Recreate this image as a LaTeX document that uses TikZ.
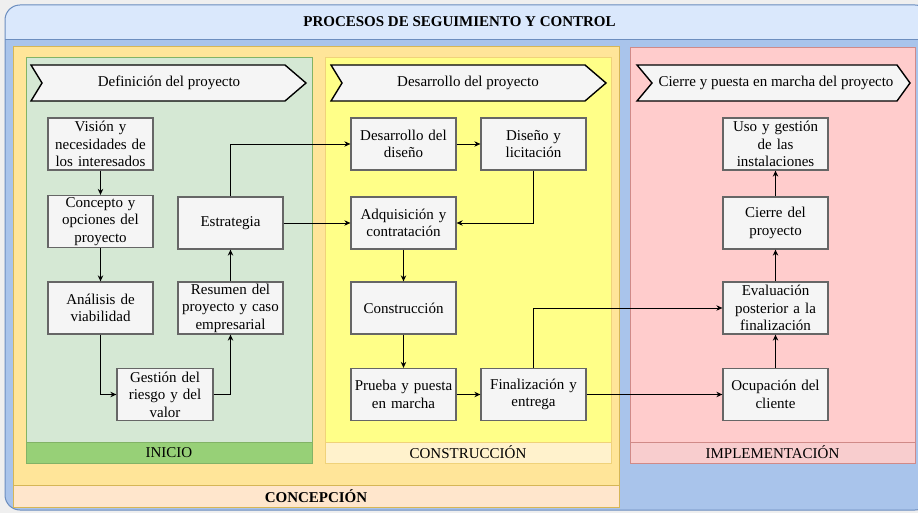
\documentclass[tikz,border=0pt]{standalone}
\usepackage{fontspec}
\setmainfont{Liberation Serif}
\usetikzlibrary{arrows.meta}
\definecolor{pagebg}{HTML}{EFEFEF}
\definecolor{hdrfill}{HTML}{DAE8FC}
\definecolor{hdrline}{HTML}{6C8EBF}
\definecolor{bodyblue}{HTML}{A9C4EB}
\definecolor{orfill}{HTML}{FFE599}
\definecolor{orline}{HTML}{D6B656}
\definecolor{orband}{HTML}{FFE6CC}
\definecolor{grfill}{HTML}{D5E8D4}
\definecolor{grline}{HTML}{82B366}
\definecolor{grband}{HTML}{97D077}
\definecolor{yefill}{HTML}{FFFF88}
\definecolor{yeline}{HTML}{F0D27A}
\definecolor{yeband}{HTML}{FFF2CC}
\definecolor{rdfill}{HTML}{FFCCCC}
\definecolor{rdline}{HTML}{D08A88}
\definecolor{rdband}{HTML}{F8CDCE}
\definecolor{boxfill}{HTML}{F5F5F5}
\definecolor{boxline}{HTML}{666666}
\tikzset{
  txt/.style={font=\fontsize{15}{17.5}\selectfont, inner sep=0pt, align=center},
  pbox/.style={txt, draw=boxline, fill=boxfill, line width=1.3pt, minimum width=105pt, minimum height=52pt, text width=104pt},
  chev/.style={draw=black, fill=boxfill, line width=1.4pt, line join=miter},
  arr/.style={draw=black, line width=0.9pt, -{Stealth[length=6pt,width=5.5pt]}},
}
\begin{document}
\begin{tikzpicture}[x=1pt,y=-1pt]
\useasboundingbox (0,0) rectangle (918,513);
\fill[pagebg] (0,0) rectangle (918,513);
% outer frame
\fill[bodyblue, rounded corners=15pt] (5,5) rectangle (930,510);
\fill[hdrfill, rounded corners=15pt] (5,5) rectangle (930,39);
\fill[hdrfill] (5,25) rectangle (930,39);
\draw[hdrline, line width=0.8pt] (5,39) -- (930,39);
\draw[hdrline, line width=1pt, rounded corners=15pt] (5,5) rectangle (930,510);
\node[txt, font=\fontsize{15}{17.5}\selectfont\bfseries] (title) at (459.5,22) {PROCESOS DE SEGUIMIENTO Y CONTROL};
% concepcion
\draw[orline, fill=orfill, line width=1pt] (13,47) rectangle (619,507);
\draw[orline, fill=orband, line width=1pt] (13,485) rectangle (619,507);
\node[txt, font=\fontsize{15}{17.5}\selectfont\bfseries] (lconc) at (316,496) {CONCEPCIÓN};
% inicio
\draw[grline, fill=grfill, line width=0.8pt] (26,57) rectangle (312,463);
\draw[grline, fill=grband, line width=0.8pt] (26,442) rectangle (312,463);
\node[txt] (linicio) at (169,452.5) {INICIO};
% construccion
\draw[yeline, fill=yefill, line width=0.8pt] (325,57) rectangle (611,463);
\draw[yeline, fill=yeband, line width=0.8pt] (325,442) rectangle (611,463);
\node[txt] (lconst) at (468,452.5) {CONSTRUCCIÓN};
% implementacion
\draw[rdline, fill=rdfill, line width=1pt] (630,48) rectangle (915,463);
\draw[rdline, fill=rdband, line width=1pt] (630,442) rectangle (915,463);
\node[txt] (limpl) at (772.5,452.5) {IMPLEMENTACIÓN};
% chevrons
\draw[chev] (31,65) -- (285,65) -- (306,83) -- (285,101) -- (31,101) -- (42,83) -- cycle;
\node[txt] (ch1) at (169,83) {Definición del proyecto};
\draw[chev] (331,65) -- (585,65) -- (606,83) -- (585,101) -- (331,101) -- (342,83) -- cycle;
\node[txt] (ch2) at (468,83) {Desarrollo del proyecto};
\draw[chev] (637,65) -- (897,65) -- (910,83) -- (897,101) -- (637,101) -- (652,83) -- cycle;
\node[txt] (ch3) at (776,83) {Cierre y puesta en marcha del proyecto};
% process boxes
\node[pbox] (vis) at (100.5,144) {Visión y\\necesidades de\\los interesados};
\node[pbox] (con) at (100.5,221.5) {Concepto y\\opciones del\\proyecto};
\node[pbox] (ana) at (100.5,308) {Análisis de\\viabilidad};
\node[pbox, minimum width=96pt, text width=95pt] (ges) at (165,394.5) {Gestión del\\riesgo y del\\valor};
\node[pbox] (res) at (230.5,308) {Resumen del\\proyecto y caso\\empresarial};
\node[pbox] (est) at (230.5,223) {Estrategia};
\node[pbox] (dd) at (403.5,144) {Desarrollo del\\diseño};
\node[pbox] (dl) at (533.5,144) {Diseño y\\licitación};
\node[pbox] (adq) at (403.5,223) {Adquisición y\\contratación};
\node[pbox] (cons) at (403.5,308) {Construcción};
\node[pbox] (pru) at (403.5,394.5) {Prueba y puesta\\en marcha};
\node[pbox] (fin) at (533.5,394.5) {Finalización y\\entrega};
\node[pbox] (uso) at (775.5,144) {Uso y gestión\\de las\\instalaciones};
\node[pbox] (cie) at (775.5,223) {Cierre del\\proyecto};
\node[pbox] (eva) at (775.5,308) {Evaluación\\posterior a la\\finalización};
\node[pbox] (ocu) at (775.5,394.5) {Ocupación del\\cliente};
% connectors
\draw[arr] (vis) -- (con);
\draw[arr] (con) -- (ana);
\draw[arr] (ana.south) |- (ges.west);
\draw[arr] (ges.east) -| (res.south);
\draw[arr] (res) -- (est);
\draw[arr] (est.north) |- (dd.west);
\draw[arr] (est.east) -- (adq.west);
\draw[arr] (dd) -- (dl);
\draw[arr] (dl.south) |- (adq.east);
\draw[arr] (adq) -- (cons);
\draw[arr] (cons) -- (pru);
\draw[arr] (pru) -- (fin);
\draw[arr] (fin.north) |- (eva.west);
\draw[arr] (fin.east) -- (ocu.west);
\draw[arr] (ocu) -- (eva);
\draw[arr] (eva) -- (cie);
\draw[arr] (cie) -- (uso);
\end{tikzpicture}
\end{document}
